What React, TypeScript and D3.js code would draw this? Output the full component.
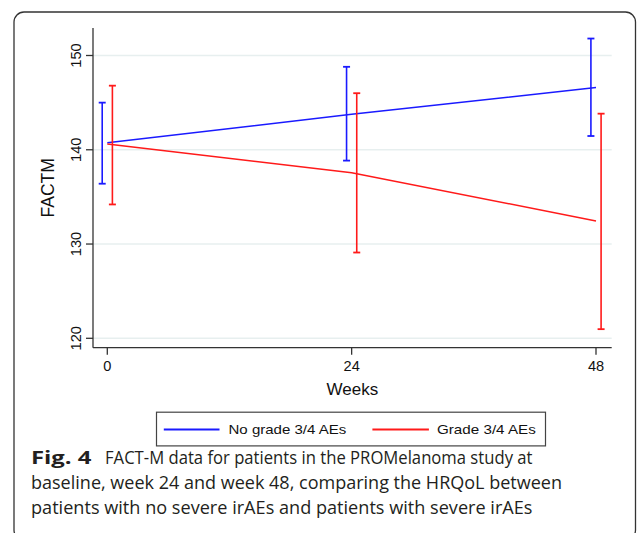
import React from "react";
import * as d3 from "d3";

const weeks = [0, 24, 48];
const xTicks = [0, 24, 48];
const yTicks = [120, 130, 140, 150];

const noGradeMean = [140.75, 143.76, 146.6];
const noGradeLow = [136.4, 138.85, 141.46];
const noGradeHigh = [145.0, 148.8, 151.8];

const gradeMean = [140.6, 137.57, 132.45];
const gradeLow = [134.2, 129.1, 120.97];
const gradeHigh = [146.8, 146.0, 143.83];

const legendLabels = ["No grade 3/4 AEs", "Grade 3/4 AEs"];
const captionBold = "Fig. 4";
const captionLines = [
  "FACT-M data for patients in the PROMelanoma study at",
  "baseline, week 24 and week 48, comparing the HRQoL between",
  "patients with no severe irAEs and patients with severe irAEs",
];

const BLUE = "#1a1aff";
const RED = "#ff1a1a";

export default function App() {
  const x = d3.scaleLinear().domain([0, 48]).range([107.3, 596]);
  const y = d3.scaleLinear().domain([120, 150]).range([338.3, 55.5]);
  const xMin = x.invert(93);
  const xMax = x.invert(611.7);
  const yMin = y.invert(347.7);
  const yMax = y.invert(28);

  const series = [
    { mean: noGradeMean, low: noGradeLow, high: noGradeHigh, color: BLUE, off: -0.5 },
    { mean: gradeMean, low: gradeLow, high: gradeHigh, color: RED, off: 0.5 },
  ];

  const line = d3
    .line<number>()
    .x((_, i) => x(weeks[i]))
    .y((d) => y(d));

  const axisFont = "Arial, 'Liberation Sans', sans-serif";
  const capFont = "'Open Sans', 'Noto Sans', sans-serif";

  return (
    <svg
      width={637}
      height={533}
      style={{ position: "absolute", left: 0, top: 0, background: "#fff" }}
    >
      <rect x={14} y={12} width={621.5} height={528} rx={10} fill="#fff" stroke="#333" strokeWidth={1.3} />

      {/* gridlines */}
      {yTicks.map((t) => (
        <line key={"g" + t} x1={x(xMin)} x2={x(xMax)} y1={y(t)} y2={y(t)} stroke="#e7efef" strokeWidth={1.5} />
      ))}

      {/* axes */}
      <line x1={x(xMin)} x2={x(xMin)} y1={y(yMax)} y2={y(yMin)} stroke="#333" strokeWidth={1.3} />
      <line x1={x(xMin)} x2={x(xMax)} y1={y(yMin)} y2={y(yMin)} stroke="#333" strokeWidth={1.3} />

      {yTicks.map((t) => (
        <g key={"yt" + t}>
          <line x1={x(xMin) - 7} x2={x(xMin)} y1={y(t)} y2={y(t)} stroke="#333" strokeWidth={1.3} />
          <text
            transform={`translate(81,${y(t)}) rotate(-90)`}
            textAnchor="middle"
            fontFamily={axisFont}
            fontSize={14.6}
            fill="#111"
          >
            {t}
          </text>
        </g>
      ))}
      {xTicks.map((t) => (
        <g key={"xt" + t}>
          <line x1={x(t)} x2={x(t)} y1={y(yMin)} y2={y(yMin) + 7} stroke="#333" strokeWidth={1.3} />
          <text x={x(t)} y={371} textAnchor="middle" fontFamily={axisFont} fontSize={14.6} fill="#111">
            {t}
          </text>
        </g>
      ))}

      <text x={(x(xMin) + x(xMax)) / 2} y={395} textAnchor="middle" fontFamily={axisFont} fontSize={17} fill="#111">
        Weeks
      </text>
      <text
        transform={`translate(53.5,${(y(yMin) + y(yMax)) / 2}) rotate(-90)`}
        textAnchor="middle"
        fontFamily={axisFont}
        fontSize={17.5}
        fill="#111"
      >
        FACTM
      </text>

      {/* series */}
      {series.map((s, si) => (
        <g key={"s" + si}>
          <path d={line(s.mean) || ""} fill="none" stroke={s.color} strokeWidth={1.5} />
          {weeks.map((w, i) => {
            const cx = x(w + s.off);
            return (
              <g key={"e" + i}>
                <line x1={cx} x2={cx} y1={y(s.low[i])} y2={y(s.high[i])} stroke={s.color} strokeWidth={1.6} />
                <line x1={cx - 3.5} x2={cx + 3.5} y1={y(s.low[i])} y2={y(s.low[i])} stroke={s.color} strokeWidth={1.8} />
                <line x1={cx - 3.5} x2={cx + 3.5} y1={y(s.high[i])} y2={y(s.high[i])} stroke={s.color} strokeWidth={1.8} />
              </g>
            );
          })}
        </g>
      ))}

      {/* legend */}
      <rect x={156.5} y={412.2} width={389} height={33.7} fill="#fff" stroke="#444" strokeWidth={1.2} />
      <line x1={163.8} x2={219.5} y1={429.5} y2={429.5} stroke={BLUE} strokeWidth={1.8} />
      <text x={228.5} y={434} fontFamily={axisFont} fontSize={13.2} fill="#111" textLength={117.8} lengthAdjust="spacingAndGlyphs">
        {legendLabels[0]}
      </text>
      <line x1={372.4} x2={428.9} y1={429.5} y2={429.5} stroke={RED} strokeWidth={1.8} />
      <text x={437} y={434} fontFamily={axisFont} fontSize={13.2} fill="#111" textLength={98.8} lengthAdjust="spacingAndGlyphs">
        {legendLabels[1]}
      </text>

      {/* caption */}
      <text x={31} y={464} fontFamily={capFont} fontSize={18} fontWeight="bold" fill="#231f20" textLength={60.5} lengthAdjust="spacingAndGlyphs">
        {captionBold}
      </text>
      <text x={105} y={464} fontFamily={capFont} fontSize={18} fill="#231f20" textLength={427.5} lengthAdjust="spacingAndGlyphs">
        {captionLines[0]}
      </text>
      <text x={31} y={489} fontFamily={capFont} fontSize={18} fill="#231f20" textLength={531} lengthAdjust="spacingAndGlyphs">
        {captionLines[1]}
      </text>
      <text x={31} y={514} fontFamily={capFont} fontSize={18} fill="#231f20" textLength={501.5} lengthAdjust="spacingAndGlyphs">
        {captionLines[2]}
      </text>
    </svg>
  );
}
